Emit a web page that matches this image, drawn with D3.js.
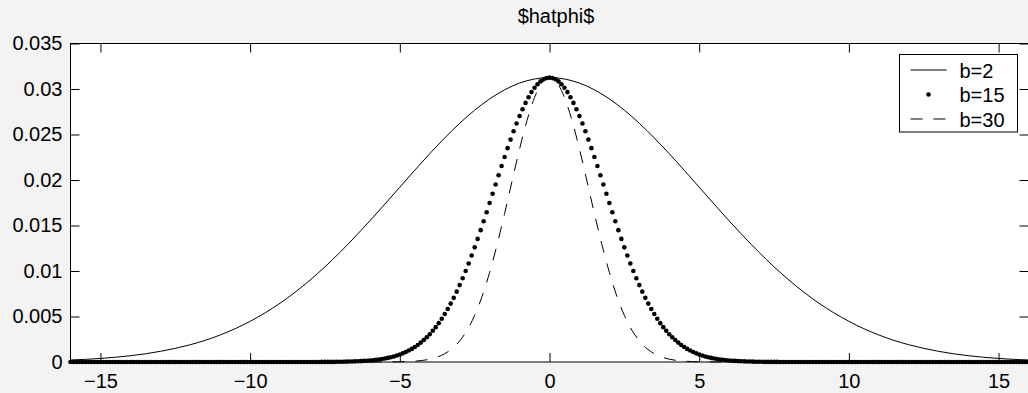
<!DOCTYPE html>
<html>
<head>
<meta charset="utf-8">
<script src="https://cdn.jsdelivr.net/npm/d3@7"></script>
<style>
  html, body { margin: 0; padding: 0; background: #f3f3f3; overflow: hidden; }
  text { font-family: "Liberation Sans", Arial, Helvetica, sans-serif; fill: #000; }
</style>
</head>
<body>
<svg id="chart" width="1028" height="393"></svg>
<script>
// ---- chart text and ticks ----
const titleText = "$hatphi$";
const xTicks = [-15, -10, -5, 0, 5, 10, 15];
const xTickLabels = ["\u221215", "\u221210", "\u22125", "0", "5", "10", "15"];
const yTicks = [0, 0.005, 0.01, 0.015, 0.02, 0.025, 0.03, 0.035];
const yTickLabels = ["0", "0.005", "0.01", "0.015", "0.02", "0.025", "0.03", "0.035"];
const seriesNames = ["b=2", "b=15", "b=30"];

// ---- b=2 (solid line), sampled every 0.5 ----
const b2X = [-16, -15.5, -15, -14.5, -14, -13.5, -13, -12.5, -12, -11.5, -11, -10.5, -10, -9.5, -9, -8.5,
  -8, -7.5, -7, -6.5, -6, -5.5, -5, -4.5, -4, -3.5, -3, -2.5, -2, -1.5, -1, -0.5, 0,
  0.5, 1, 1.5, 2, 2.5, 3, 3.5, 4, 4.5, 5, 5.5, 6, 6.5, 7, 7.5, 8,
  8.5, 9, 9.5, 10, 10.5, 11, 11.5, 12, 12.5, 13, 13.5, 14, 14.5, 15, 15.5, 16];
const b2Y = [0.00022, 0.00029, 0.00039, 0.00052, 0.00069, 0.00090, 0.00117, 0.00150, 0.00190, 0.00238, 0.00297, 0.00366, 0.00447, 0.00540, 0.00646, 0.00766,
  0.00900, 0.01046, 0.01205, 0.01374, 0.01551, 0.01735, 0.01921, 0.02107, 0.02289, 0.02462, 0.02623, 0.02767, 0.02891, 0.02991, 0.03065, 0.03110, 0.03125,
  0.03110, 0.03065, 0.02991, 0.02891, 0.02767, 0.02623, 0.02462, 0.02289, 0.02107, 0.01921, 0.01735, 0.01551, 0.01374, 0.01205, 0.01046, 0.00900,
  0.00766, 0.00646, 0.00540, 0.00447, 0.00366, 0.00297, 0.00238, 0.00190, 0.00150, 0.00117, 0.00090, 0.00069, 0.00052, 0.00039, 0.00029, 0.00022];

// ---- b=15 (dot markers), one sample every 0.1 from -16 to 16 ----
const b15Start = -16;
const b15Step = 0.1;
const b15Y = [
  // -16.0 .. -7.7
  0,0,0,0,0,0,0,0,0,0, 0,0,0,0,0,0,0,0,0,0, 0,0,0,0,0,0,0,0,0,0, 0,0,0,0,0,0,0,0,0,0,
  0,0,0,0,0,0,0,0,0,0, 0,0,0,0,0,0,0,0,0,0, 0,0,0,0,0,0,0,0,0,0, 0,0,0,0,0,0,0,0,0,0,
  0,0,0,0,
  // -7.6 .. -7.1
  0.00001,0.00001,0.00001,0.00001,0.00001,0.00002,
  // -7.0 .. -0.1
  0.00002,0.00003,0.00004,0.00005,0.00006,0.00007,0.00008,0.00010,0.00012,0.00014,
  0.00017,0.00020,0.00024,0.00028,0.00033,0.00039,0.00045,0.00053,0.00061,0.00071,
  0.00083,0.00095,0.00110,0.00126,0.00144,0.00165,0.00187,0.00213,0.00241,0.00272,
  0.00305,0.00343,0.00383,0.00427,0.00475,0.00527,0.00582,0.00642,0.00705,0.00773,
  0.00845,0.00920,0.01000,0.01083,0.01170,0.01260,0.01353,0.01449,0.01546,0.01646,
  0.01747,0.01849,0.01951,0.02053,0.02154,0.02253,0.02350,0.02444,0.02535,0.02621,
  0.02702,0.02778,0.02847,0.02910,0.02966,0.03013,0.03053,0.03084,0.03107,0.03120,
  // 0
  0.03125,
  // 0.1 .. 7.0
  0.03120,0.03107,0.03084,0.03053,0.03013,0.02966,0.02910,0.02847,0.02778,0.02702,
  0.02621,0.02535,0.02444,0.02350,0.02253,0.02154,0.02053,0.01951,0.01849,0.01747,
  0.01646,0.01546,0.01449,0.01353,0.01260,0.01170,0.01083,0.01000,0.00920,0.00845,
  0.00773,0.00705,0.00642,0.00582,0.00527,0.00475,0.00427,0.00383,0.00343,0.00305,
  0.00272,0.00241,0.00213,0.00187,0.00165,0.00144,0.00126,0.00110,0.00095,0.00083,
  0.00071,0.00061,0.00053,0.00045,0.00039,0.00033,0.00028,0.00024,0.00020,0.00017,
  0.00014,0.00012,0.00010,0.00008,0.00007,0.00006,0.00005,0.00004,0.00003,0.00002,
  // 7.1 .. 7.6
  0.00002,0.00001,0.00001,0.00001,0.00001,0.00001,
  // 7.7 .. 16.0
  0,0,0,0,0,0,0,0,0,0, 0,0,0,0,0,0,0,0,0,0, 0,0,0,0,0,0,0,0,0,0, 0,0,0,0,0,0,0,0,0,0,
  0,0,0,0,0,0,0,0,0,0, 0,0,0,0,0,0,0,0,0,0, 0,0,0,0,0,0,0,0,0,0, 0,0,0,0,0,0,0,0,0,0,
  0,0,0,0
];

// ---- b=30 (dashed line) ----
const b30X = [-16, -12, -8, -6, -5, -4.75, -4.5, -4.25, -4, -3.75, -3.5, -3.25, -3, -2.75, -2.5, -2.25,
  -2, -1.75, -1.5, -1.25, -1, -0.75, -0.5, -0.25, 0,
  0.25, 0.5, 0.75, 1, 1.25, 1.5, 1.75, 2, 2.25, 2.5, 2.75, 3, 3.25, 3.5, 3.75, 4, 4.25, 4.5, 4.75, 5, 6, 8, 12, 16];
const b30Y = [0, 0, 0, 0, 0.00002, 0.00005, 0.00009, 0.00017, 0.00031, 0.00054, 0.00091, 0.00148, 0.00232, 0.00351, 0.00513, 0.00723,
  0.00984, 0.01290, 0.01631, 0.01989, 0.02341, 0.02656, 0.02907, 0.03069, 0.03125,
  0.03069, 0.02907, 0.02656, 0.02341, 0.01989, 0.01631, 0.01290, 0.00984, 0.00723, 0.00513, 0.00351, 0.00232, 0.00148, 0.00091, 0.00054,
  0.00031, 0.00017, 0.00009, 0.00005, 0.00002, 0, 0, 0, 0];

// ---- layout ----
const W = 1028, H = 393;
const plot = { left: 70.5, right: 1028.5, top: 43.5, bottom: 362 };
const fontSize = 20;
const dashPattern = "12,11";

const svg = d3.select("#chart");
svg.append("rect").attr("width", W).attr("height", H).attr("fill", "#f3f3f3");

const x = d3.scaleLinear().domain([-16, 16]).range([plot.left, plot.right]);
const y = d3.scaleLinear().domain([0, 0.035]).range([plot.bottom, plot.top]);

// axes background
svg.append("rect")
  .attr("x", plot.left).attr("y", plot.top)
  .attr("width", plot.right - plot.left).attr("height", plot.bottom - plot.top)
  .attr("fill", "#ffffff");

const clipId = "plot-clip";
svg.append("clipPath").attr("id", clipId).append("rect")
  .attr("x", plot.left - 3).attr("y", plot.top - 3)
  .attr("width", plot.right - plot.left + 6).attr("height", plot.bottom - plot.top + 6);

const marks = svg.append("g").attr("clip-path", `url(#${clipId})`);

const lineGen = (xs, ys) => d3.line()
  .x((d, i) => x(xs[i]))
  .y((d, i) => y(ys[i]))
  .curve(d3.curveMonotoneX)(ys);

// b=2 solid
marks.append("path")
  .attr("d", lineGen(b2X, b2Y))
  .attr("fill", "none").attr("stroke", "#000").attr("stroke-width", 1);

// b=30 dashed
marks.append("path")
  .attr("d", lineGen(b30X, b30Y))
  .attr("fill", "none").attr("stroke", "#000").attr("stroke-width", 1)
  .attr("stroke-dasharray", dashPattern);

// b=15 dots
const b15X = b15Y.map((v, i) => b15Start + i * b15Step);
marks.selectAll("circle.b15").data(b15Y).enter().append("circle")
  .attr("class", "b15")
  .attr("cx", (d, i) => x(b15X[i]))
  .attr("cy", d => y(d))
  .attr("r", 2.3)
  .attr("fill", "#000");

// ---- axes (ticks pointing inward, MATLAB style box) ----
const axisStyle = g => {
  g.selectAll(".domain").remove();
  g.selectAll(".tick line").attr("stroke", "#000").attr("stroke-width", 1);
  g.selectAll("text")
    .style("font-family", '"Liberation Sans", Arial, Helvetica, sans-serif')
    .style("font-size", fontSize + "px")
    .attr("fill", "#000");
};

svg.append("g")
  .attr("transform", `translate(0,${plot.bottom})`)
  .call(d3.axisBottom(x).tickValues(xTicks)
    .tickFormat((d, i) => xTickLabels[i]).tickSize(-9).tickPadding(12))
  .call(axisStyle);

svg.append("g")
  .attr("transform", `translate(0,${plot.top})`)
  .call(d3.axisTop(x).tickValues(xTicks).tickFormat("").tickSize(-9))
  .call(axisStyle);

svg.append("g")
  .attr("transform", `translate(${plot.left},0)`)
  .call(d3.axisLeft(y).tickValues(yTicks)
    .tickFormat((d, i) => yTickLabels[i]).tickSize(-9).tickPadding(8))
  .call(axisStyle);

svg.append("g")
  .attr("transform", `translate(${plot.right},0)`)
  .call(d3.axisRight(y).tickValues(yTicks).tickFormat("").tickSize(-9))
  .call(axisStyle);

// axes box
svg.append("rect")
  .attr("x", plot.left).attr("y", plot.top)
  .attr("width", plot.right - plot.left).attr("height", plot.bottom - plot.top)
  .attr("fill", "none").attr("stroke", "#000").attr("stroke-width", 1);

// title
svg.append("text")
  .attr("x", 556).attr("y", 23)
  .attr("text-anchor", "middle")
  .style("font-size", fontSize + "px")
  .text(titleText);

// ---- legend ----
const legend = svg.append("g").attr("transform", "translate(899.5,54.5)");
legend.append("rect")
  .attr("width", 118).attr("height", 77.5)
  .attr("fill", "#fff").attr("stroke", "#000").attr("stroke-width", 1);

const rowY = [15.5, 40, 64.5];
const sampleX0 = 11, sampleX1 = 47, textX = 60;

legend.append("line")
  .attr("x1", sampleX0).attr("x2", sampleX1).attr("y1", rowY[0]).attr("y2", rowY[0])
  .attr("stroke", "#000").attr("stroke-width", 1);
legend.append("circle")
  .attr("cx", (sampleX0 + sampleX1) / 2).attr("cy", rowY[1]).attr("r", 2.3).attr("fill", "#000");
legend.append("line")
  .attr("x1", sampleX0).attr("x2", sampleX1).attr("y1", rowY[2]).attr("y2", rowY[2])
  .attr("stroke", "#000").attr("stroke-width", 1).attr("stroke-dasharray", dashPattern);

legend.selectAll("text.lab").data(seriesNames).enter().append("text")
  .attr("class", "lab")
  .attr("x", textX)
  .attr("y", (d, i) => rowY[i] + 7.5)
  .style("font-size", fontSize + "px")
  .text(d => d);
</script>
</body>
</html>
